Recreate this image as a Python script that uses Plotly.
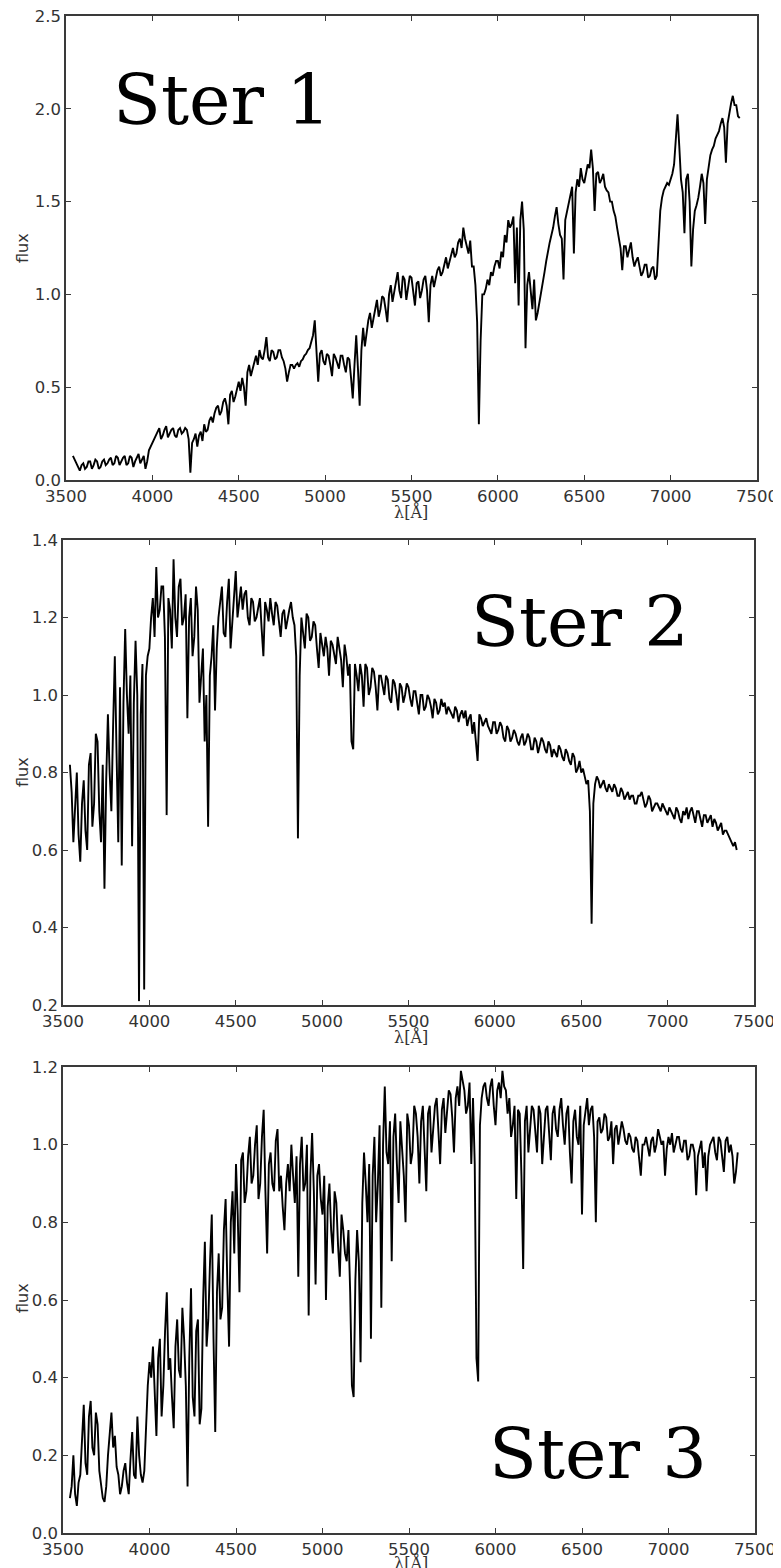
import numpy as np
import plotly.graph_objects as go

# spectra are sampled every 10 A from 3540 to 7400 A
WAVELENGTH = np.arange(3540, 7401, 10)

# values, 20 per row (each row spans 200 A)
FLUX_STER1 = [
    0.13, 0.11, 0.09, 0.07, 0.05, 0.08, 0.09, 0.06, 0.07, 0.10, 0.10, 0.06, 0.08, 0.11, 0.10, 0.06, 0.07, 0.10, 0.11, 0.08,  # 3540
    0.09, 0.11, 0.12, 0.08, 0.09, 0.13, 0.12, 0.08, 0.10, 0.12, 0.13, 0.08, 0.09, 0.13, 0.12, 0.07, 0.10, 0.12, 0.14, 0.09,  # 3740
    0.11, 0.13, 0.06, 0.10, 0.16, 0.18, 0.20, 0.22, 0.24, 0.26, 0.28, 0.22, 0.24, 0.27, 0.29, 0.23, 0.25, 0.27, 0.28, 0.24,  # 3940
    0.23, 0.27, 0.28, 0.25, 0.26, 0.28, 0.27, 0.22, 0.04, 0.20, 0.22, 0.25, 0.18, 0.24, 0.26, 0.21, 0.30, 0.26, 0.27, 0.32,  # 4140
    0.34, 0.31, 0.36, 0.39, 0.40, 0.35, 0.37, 0.42, 0.44, 0.40, 0.30, 0.46, 0.48, 0.42, 0.45, 0.50, 0.53, 0.48, 0.55, 0.50,  # 4340
    0.40, 0.58, 0.62, 0.56, 0.60, 0.64, 0.67, 0.62, 0.70, 0.66, 0.65, 0.70, 0.77, 0.66, 0.64, 0.70, 0.69, 0.65, 0.66, 0.70,  # 4540
    0.70, 0.66, 0.64, 0.60, 0.53, 0.58, 0.62, 0.62, 0.60, 0.62, 0.63, 0.61, 0.64, 0.65, 0.67, 0.68, 0.70, 0.71, 0.74, 0.78,  # 4740
    0.86, 0.70, 0.53, 0.68, 0.70, 0.64, 0.62, 0.68, 0.67, 0.62, 0.56, 0.68, 0.66, 0.63, 0.60, 0.67, 0.67, 0.62, 0.58, 0.66,  # 4940
    0.65, 0.55, 0.44, 0.62, 0.78, 0.60, 0.40, 0.70, 0.82, 0.72, 0.80, 0.86, 0.90, 0.82, 0.87, 0.93, 0.97, 0.88, 0.92, 0.99,  # 5140
    0.98, 0.92, 0.85, 1.00, 1.05, 0.96, 1.02, 1.08, 1.12, 1.02, 0.98, 1.10, 1.08, 0.97, 1.03, 1.10, 1.09, 1.00, 0.94, 1.06,  # 5340
    1.07, 0.98, 1.02, 1.08, 1.10, 1.02, 0.85, 1.05, 1.10, 1.04, 1.08, 1.13, 1.15, 1.10, 1.12, 1.17, 1.20, 1.14, 1.18, 1.22,  # 5540
    1.25, 1.20, 1.22, 1.28, 1.30, 1.25, 1.36, 1.30, 1.25, 1.22, 1.29, 1.15, 1.15, 1.05, 0.85, 0.30, 0.75, 1.00, 1.00, 1.03,  # 5740
    1.08, 1.05, 1.12, 1.10, 1.15, 1.18, 1.18, 1.14, 1.23, 1.20, 1.32, 1.28, 1.40, 1.36, 1.38, 1.42, 1.06, 1.36, 0.94, 1.40,  # 5940
    1.50, 1.35, 0.71, 1.05, 1.12, 1.00, 0.92, 1.08, 0.86, 0.90, 0.95, 1.00, 1.06, 1.12, 1.18, 1.24, 1.28, 1.32, 1.36, 1.42,  # 6140
    1.47, 1.38, 1.32, 1.30, 1.08, 1.40, 1.45, 1.50, 1.55, 1.58, 1.22, 1.55, 1.62, 1.58, 1.68, 1.62, 1.60, 1.66, 1.70, 1.68,  # 6340
    1.78, 1.68, 1.45, 1.65, 1.66, 1.60, 1.62, 1.65, 1.58, 1.56, 1.55, 1.50, 1.50, 1.45, 1.42, 1.36, 1.30, 1.25, 1.13, 1.26,  # 6540
    1.26, 1.20, 1.24, 1.28, 1.20, 1.15, 1.18, 1.20, 1.15, 1.10, 1.12, 1.16, 1.16, 1.09, 1.10, 1.14, 1.15, 1.08, 1.10, 1.30,  # 6740
    1.45, 1.52, 1.56, 1.58, 1.60, 1.59, 1.62, 1.65, 1.70, 1.82, 1.97, 1.80, 1.62, 1.55, 1.33, 1.62, 1.65, 1.50, 1.15, 1.35,  # 6940
    1.45, 1.48, 1.52, 1.58, 1.65, 1.60, 1.38, 1.62, 1.70, 1.75, 1.78, 1.80, 1.84, 1.86, 1.88, 1.92, 1.95, 1.90, 1.71, 1.92,  # 7140
    1.98, 2.03, 2.07, 2.02, 2.02, 1.96, 1.95,                                                                                  # 7340
]

FLUX_STER2 = [
    0.82, 0.75, 0.62, 0.70, 0.80, 0.64, 0.57, 0.72, 0.78, 0.65, 0.60, 0.82, 0.85, 0.66, 0.72, 0.90, 0.88, 0.70, 0.62, 0.82,
    0.50, 0.78, 0.95, 0.80, 0.70, 0.92, 1.10, 0.85, 0.62, 1.02, 0.56, 0.98, 1.17, 1.00, 0.90, 1.05, 0.61, 0.98, 1.14, 1.00,
    0.21, 0.95, 1.08, 0.24, 1.05, 1.10, 1.12, 1.20, 1.25, 1.15, 1.33, 1.20, 1.22, 1.28, 1.28, 1.15, 0.69, 1.25, 1.22, 1.12,
    1.35, 1.20, 1.15, 1.28, 1.30, 1.18, 1.20, 1.26, 0.94, 1.20, 1.25, 1.10, 1.15, 1.28, 1.22, 0.98, 1.05, 1.12, 0.88, 1.00,
    0.66, 1.05, 1.10, 1.18, 0.96, 1.12, 1.20, 1.25, 1.28, 1.16, 1.15, 1.24, 1.30, 1.12, 1.18, 1.26, 1.32, 1.20, 1.25, 1.28,
    1.22, 1.26, 1.27, 1.20, 1.18, 1.25, 1.24, 1.19, 1.20, 1.23, 1.25, 1.17, 1.10, 1.24, 1.22, 1.19, 1.25, 1.21, 1.18, 1.24,
    1.23, 1.19, 1.15, 1.21, 1.22, 1.17, 1.20, 1.22, 1.24, 1.20, 1.18, 1.10, 0.63, 1.05, 1.20, 1.16, 1.12, 1.21, 1.20, 1.14,
    1.15, 1.19, 1.18, 1.12, 1.07, 1.16, 1.13, 1.10, 1.15, 1.12, 1.05, 1.14, 1.13, 1.10, 1.08, 1.15, 1.12, 1.09, 1.02, 1.13,
    1.10, 1.05, 1.08, 0.88, 0.86, 1.08, 1.05, 1.01, 1.08, 1.05, 0.97, 1.08, 1.07, 1.00, 1.02, 1.07, 1.06, 1.02, 0.96, 1.05,
    1.05, 1.02, 1.00, 1.05, 1.04, 0.99, 0.98, 1.04, 1.03, 1.00, 0.96, 1.03, 1.02, 0.98, 1.00, 1.03, 1.02, 0.99, 0.97, 1.01,
    1.01, 0.98, 0.95, 1.00, 1.00, 0.96, 0.97, 1.00, 0.99, 0.97, 0.94, 0.99, 0.98, 0.95, 0.96, 0.99, 0.97, 0.98, 0.95, 0.97,
    0.96, 0.95, 0.94, 0.97, 0.96, 0.93, 0.95, 0.96, 0.94, 0.96, 0.92, 0.94, 0.95, 0.90, 0.93, 0.88, 0.83, 0.95, 0.94, 0.92,
    0.93, 0.94, 0.92, 0.91, 0.90, 0.93, 0.93, 0.90, 0.91, 0.93, 0.92, 0.89, 0.88, 0.92, 0.91, 0.88, 0.89, 0.91, 0.90, 0.88,
    0.87, 0.89, 0.90, 0.87, 0.88, 0.90, 0.89, 0.86, 0.86, 0.89, 0.88, 0.85, 0.87, 0.89, 0.88, 0.86, 0.85, 0.88, 0.87, 0.84,
    0.86, 0.85, 0.84, 0.87, 0.86, 0.84, 0.83, 0.86, 0.85, 0.83, 0.82, 0.85, 0.84, 0.80, 0.81, 0.83, 0.80, 0.81, 0.79, 0.77,
    0.78, 0.70, 0.41, 0.72, 0.77, 0.79, 0.78, 0.76, 0.77, 0.78, 0.76, 0.75, 0.77, 0.76, 0.75, 0.77, 0.76, 0.74, 0.74, 0.76,
    0.75, 0.73, 0.74, 0.75, 0.73, 0.74, 0.74, 0.72, 0.72, 0.74, 0.74, 0.75, 0.73, 0.71, 0.72, 0.74, 0.73, 0.70, 0.71, 0.72,
    0.72, 0.71, 0.70, 0.72, 0.71, 0.70, 0.69, 0.71, 0.70, 0.69, 0.68, 0.71, 0.70, 0.68, 0.67, 0.70, 0.69, 0.71, 0.68, 0.70,
    0.71, 0.69, 0.67, 0.70, 0.70, 0.68, 0.66, 0.69, 0.69, 0.67, 0.68, 0.69, 0.66, 0.68, 0.67, 0.65, 0.66, 0.67, 0.64, 0.65,
    0.65, 0.64, 0.63, 0.62, 0.61, 0.62, 0.60,
]

FLUX_STER3 = [
    0.09, 0.12, 0.20, 0.10, 0.07, 0.13, 0.15, 0.26, 0.33, 0.18, 0.15, 0.30, 0.34, 0.22, 0.20, 0.31, 0.28, 0.16, 0.12, 0.09,
    0.08, 0.12, 0.20, 0.27, 0.31, 0.22, 0.25, 0.17, 0.15, 0.10, 0.12, 0.16, 0.18, 0.13, 0.10, 0.19, 0.26, 0.15, 0.14, 0.30,
    0.20, 0.15, 0.13, 0.16, 0.30, 0.38, 0.44, 0.40, 0.48, 0.36, 0.25, 0.45, 0.50, 0.30, 0.38, 0.52, 0.62, 0.42, 0.45, 0.35,
    0.27, 0.48, 0.55, 0.42, 0.40, 0.58, 0.50, 0.38, 0.12, 0.45, 0.63, 0.35, 0.30, 0.52, 0.55, 0.28, 0.32, 0.60, 0.75, 0.48,
    0.55, 0.70, 0.82, 0.50, 0.26, 0.62, 0.72, 0.55, 0.58, 0.78, 0.86, 0.64, 0.48, 0.80, 0.88, 0.72, 0.95, 0.82, 0.62, 0.96,
    0.98, 0.85, 0.88, 0.97, 1.02, 0.90, 0.92, 1.00, 1.05, 0.86, 0.90, 1.02, 1.09, 0.88, 0.72, 0.95, 0.98, 0.90, 0.88, 1.01,
    1.04, 0.88, 0.92, 0.84, 0.78, 0.90, 0.95, 0.88, 1.00, 0.92, 0.85, 0.97, 0.66, 0.95, 1.02, 0.88, 0.90, 1.00, 0.56, 0.92,
    1.03, 0.88, 0.64, 0.92, 0.95, 0.86, 0.82, 0.92, 0.60, 0.84, 0.90, 0.78, 0.72, 0.88, 0.85, 0.74, 0.66, 0.82, 0.78, 0.72,
    0.70, 0.78, 0.62, 0.38, 0.35, 0.65, 0.78, 0.70, 0.44, 0.85, 0.98, 0.90, 0.80, 0.95, 0.50, 0.92, 1.02, 0.80, 0.90, 1.05,
    0.58, 1.00, 1.15, 0.98, 0.95, 1.06, 0.70, 1.02, 1.08, 0.95, 0.85, 1.06, 1.00, 0.92, 0.80, 1.08, 1.05, 0.95, 0.98, 1.10,
    1.08, 1.02, 0.90, 1.06, 1.10, 1.00, 0.88, 1.08, 1.10, 0.98, 1.05, 1.10, 1.12, 1.04, 0.95, 1.09, 1.12, 1.03, 1.08, 1.14,
    1.13, 1.07, 0.98, 1.12, 1.15, 1.10, 1.19, 1.16, 1.14, 1.08, 1.10, 1.16, 0.95, 1.12, 0.95, 0.45, 0.39, 1.05, 1.12, 1.15,
    1.16, 1.12, 1.10, 1.15, 1.17, 1.10, 1.05, 1.14, 1.16, 1.12, 1.19, 1.15, 1.14, 1.08, 1.12, 1.02, 1.05, 1.10, 0.86, 1.09,
    1.08, 0.92, 0.68, 1.06, 1.10, 0.98, 1.03, 1.10, 1.09, 1.02, 0.98, 1.10, 1.08, 0.95, 1.02, 1.09, 1.10, 1.04, 0.96, 1.08,
    1.10, 1.04, 1.02, 1.09, 1.12, 1.05, 1.00, 1.08, 1.10, 0.98, 0.90, 1.06, 1.09, 1.02, 1.00, 1.10, 0.82, 1.05, 1.08, 1.12,
    1.05, 1.09, 1.10, 1.02, 0.80, 1.06, 1.07, 1.03, 1.04, 1.08, 1.07, 1.01, 1.02, 1.06, 0.95, 1.04, 1.05, 1.00, 1.03, 1.06,
    1.04, 1.01, 1.00, 1.03, 1.02, 0.99, 0.98, 1.02, 1.01, 0.97, 0.92, 1.00, 1.00, 1.02, 0.99, 0.97, 1.01, 1.02, 0.98, 1.00,
    1.04, 1.02, 1.00, 1.01, 0.92, 0.99, 1.02, 1.00, 1.03, 0.98, 1.00, 1.02, 1.02, 0.99, 0.98, 1.01, 1.01, 0.96, 0.97, 1.00,
    1.00, 0.98, 0.87, 0.97, 0.99, 1.01, 0.94, 0.98, 0.88, 0.97, 1.00, 1.01, 1.02, 0.98, 0.96, 1.02, 1.01, 0.97, 0.93, 1.01,
    1.02, 0.98, 1.00, 0.97, 0.90, 0.93, 0.98,
]

X_TICKS = [3500, 4000, 4500, 5000, 5500, 6000, 6500, 7000, 7500]
Y_TICKS_1 = [0.0, 0.5, 1.0, 1.5, 2.0, 2.5]
Y_TICKS_2 = [0.2, 0.4, 0.6, 0.8, 1.0, 1.2, 1.4]
Y_TICKS_3 = [0.0, 0.2, 0.4, 0.6, 0.8, 1.0, 1.2]
STAR_NAMES = ["Ster 1", "Ster 2", "Ster 3"]

# the page body has an 8px margin, so the figure is drawn 8px in from the
# top-left corner; positions below are page pixels and get shifted back
PAGE_W, PAGE_H = 781, 1568
OFF = 8
W, H = PAGE_W - OFF, PAGE_H - OFF


def px(x):
    return (x - OFF) / W


def py(y):
    return 1 - (y - OFF) / H


# per panel: flux, y ticks, plot box in page pixels (left, right, top, bottom),
# star label centre, flux label y, lambda label y
panels = [
    (FLUX_STER1, Y_TICKS_1, (66, 757, 16, 480), (222, 100), 248, 512),
    (FLUX_STER2, Y_TICKS_2, (63, 754, 540, 1005), (580, 622), 772, 1037),
    (FLUX_STER3, Y_TICKS_3, (63, 755, 1067, 1533), (598, 1454), 1298, 1563),
]

AXIS_COL = "#3a3a3a"
TICK_FONT = dict(family="DejaVu Sans", size=16.5, color="#333333")

fig = go.Figure()
annotations = []

for i, (flux, yticks, box, label_pos, flux_y, lam_y) in enumerate(panels):
    assert len(flux) == len(WAVELENGTH)
    n = "" if i == 0 else str(i + 1)
    left, right, top, bottom = box

    fig.add_trace(
        go.Scatter(
            x=WAVELENGTH,
            y=flux,
            mode="lines",
            line=dict(color="black", width=1.9),
            xaxis="x" + n,
            yaxis="y" + n,
            showlegend=False,
            hoverinfo="skip",
        )
    )

    axis_common = dict(
        showgrid=False,
        zeroline=False,
        showline=True,
        automargin=False,
        linecolor=AXIS_COL,
        linewidth=1.5,
        mirror="ticks",
        ticks="inside",
        ticklen=5,
        tickcolor=AXIS_COL,
        tickfont=TICK_FONT,
        ticklabeloverflow="allow",
    )
    fig.update_layout(
        {
            "xaxis" + n: dict(
                axis_common,
                domain=[px(left), px(right)],
                anchor="y" + n,
                range=[3500, 7500],
                tickvals=X_TICKS,
                ticktext=[str(t) for t in X_TICKS],
            ),
            "yaxis" + n: dict(
                axis_common,
                domain=[py(bottom), py(top)],
                anchor="x" + n,
                range=[yticks[0], yticks[-1]],
                tickvals=yticks,
                ticktext=["%.1f" % t for t in yticks],
            ),
        }
    )

    # big star name
    annotations.append(
        dict(
            text=STAR_NAMES[i],
            x=px(label_pos[0]),
            y=py(label_pos[1]),
            xref="paper",
            yref="paper",
            showarrow=False,
            xanchor="center",
            yanchor="middle",
            font=dict(family="DejaVu Serif", size=70, color="black"),
        )
    )
    # axis labels
    annotations.append(
        dict(
            text="flux",
            x=px(22),
            y=py(flux_y),
            xref="paper",
            yref="paper",
            showarrow=False,
            textangle=-90,
            xanchor="center",
            yanchor="middle",
            font=dict(family="DejaVu Sans", size=16, color="#333333"),
        )
    )
    annotations.append(
        dict(
            text="λ[Å]",
            x=px(411),
            y=py(lam_y),
            xref="paper",
            yref="paper",
            showarrow=False,
            xanchor="center",
            yanchor="middle",
            font=dict(family="DejaVu Serif", size=16, color="#333333"),
        )
    )

fig.update_layout(
    width=W,
    height=H,
    margin=dict(l=0, r=0, t=0, b=0),
    paper_bgcolor="white",
    plot_bgcolor="white",
    annotations=annotations,
)

fig.write_html("out.html")
